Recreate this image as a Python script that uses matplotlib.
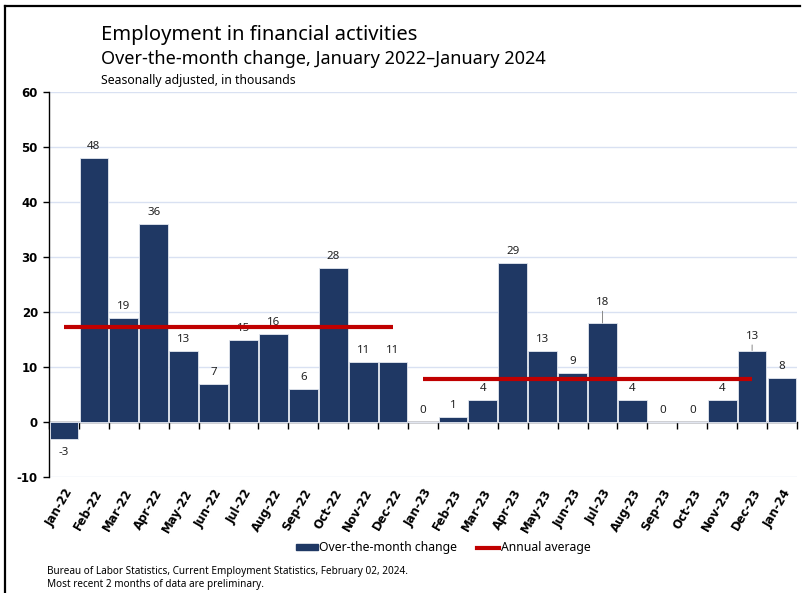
import matplotlib
matplotlib.use("Agg")
import matplotlib.pyplot as plt
from matplotlib.lines import Line2D
from matplotlib.patches import Patch
import numpy as np

plt.rcParams['font.family'] = ['Noto Sans', 'DejaVu Sans']
plt.rcParams['axes.unicode_minus'] = False

months = ["Jan-22", "Feb-22", "Mar-22", "Apr-22", "May-22", "Jun-22", "Jul-22",
          "Aug-22", "Sep-22", "Oct-22", "Nov-22", "Dec-22",
          "Jan-23", "Feb-23", "Mar-23", "Apr-23", "May-23", "Jun-23", "Jul-23",
          "Aug-23", "Sep-23", "Oct-23", "Nov-23", "Dec-23", "Jan-24"]
changes = [-3, 48, 19, 36, 13, 7, 15, 16, 6, 28, 11, 11,
           0, 1, 4, 29, 13, 9, 18, 4, 0, 0, 4, 13, 8]
avg_2022 = 17.25
avg_2023 = 7.9

title = "Employment in financial activities"
subtitle = "Over-the-month change, January 2022\u2013January 2024"
subsub = "Seasonally adjusted, in thousands"
foot1 = "Bureau of Labor Statistics, Current Employment Statistics, February 02, 2024."
foot2 = "Most recent 2 months of data are preliminary."

BAR = '#1F3864'
RED = '#C00000'
GRID = '#D9E1F2'
TICKFONT = 'DejaVu Sans'

fig = plt.figure(figsize=(8.04, 5.93), dpi=100)
ax = fig.add_axes([49/804, 1-477/593, (797-49)/804, (477-92)/593])

x = np.arange(len(months))
ax.bar(x, changes, width=0.96, color=BAR, edgecolor='#E4E8F0', linewidth=0.6, zorder=3)

ax.set_xlim(-0.5, len(months)-0.5)
ax.set_ylim(-10, 60)
ax.set_yticks(np.arange(-10, 61, 10))
ax.set_yticklabels([str(v) for v in np.arange(-10, 61, 10)],
                   fontfamily=TICKFONT, fontweight='bold', fontsize=8.5)
ax.yaxis.grid(True, color=GRID, linewidth=1.0, zorder=0)
ax.set_axisbelow(True)
for s in ['top', 'right', 'bottom']:
    ax.spines[s].set_visible(False)
ax.spines['left'].set_color('black')
ax.spines['left'].set_linewidth(1.0)
ax.tick_params(axis='y', length=4, width=1, pad=4)

ax.set_xticks(x)
ax.set_xticklabels(months, rotation=60, ha='right', rotation_mode='anchor',
                   fontsize=8.5, fontweight='bold', fontfamily=TICKFONT)
ax.tick_params(axis='x', length=0, pad=7)

# zero axis line with boundary ticks
sec = ax.secondary_xaxis(10/70)
sec.set_xticks(np.arange(-0.5, len(months)+0.5, 1.0))
sec.set_xticklabels([])
sec.tick_params(axis='x', length=5, width=1, direction='out', color='black')
sec.spines['bottom'].set_color('black')
sec.spines['bottom'].set_linewidth(1.0)

# data labels
extra = {18: 6.5, 23: 2}
for i, v in enumerate(changes):
    off = 4 + extra.get(i, 0)
    kw = dict(ha='center', fontsize=8.3, color='#222222', zorder=4, textcoords='offset points')
    if v < 0:
        ax.annotate(str(v), (i, v), xytext=(0, -6), va='top', **kw)
    elif i in extra:
        ax.annotate(str(v), (i, v), xytext=(0, off), va='bottom',
                    arrowprops=dict(arrowstyle='-', color='#888888', lw=0.7,
                                    shrinkA=0, shrinkB=0), **kw)
    else:
        ax.annotate(str(v), (i, v), xytext=(0, off), va='bottom', **kw)

ax.hlines(avg_2022, 0, 11, color=RED, linewidth=3, zorder=5)
ax.hlines(avg_2023, 12, 23, color=RED, linewidth=3, zorder=5)

# titles
fig.text(101/804, 1-40/593, title, fontsize=14.5, va='baseline', ha='left', color='black')
fig.text(101/804, 1-64/593, subtitle, fontsize=13, va='baseline', ha='left', color='black')
fig.text(101/804, 1-84/593, subsub, fontsize=8.8, va='baseline', ha='left', color='black')

# legend
handles = [Patch(facecolor=BAR, edgecolor=BAR), Line2D([0], [0], color=RED, lw=3)]
fig.legend(handles, ["Over-the-month change", "Annual average"], loc='center',
           bbox_to_anchor=(443/804, 1-548/593), ncol=2, frameon=False, fontsize=8.8,
           handlelength=1.8, handleheight=0.4, handletextpad=0.15, columnspacing=1.6)

fig.text(47/804, 1-574/593, foot1, fontsize=7.2, va='baseline', ha='left')
fig.text(47/804, 1-587/593, foot2, fontsize=7.2, va='baseline', ha='left')

# outer frame (left and top edges)
fig.add_artist(Line2D([5.5/804, 5.5/804], [0, 1-5.5/593], transform=fig.transFigure,
                      color='black', lw=1.6))
fig.add_artist(Line2D([5.5/804, 0.995], [1-5.5/593, 1-5.5/593], transform=fig.transFigure,
                      color='black', lw=1.6))

fig.savefig("out.png", dpi=100)
